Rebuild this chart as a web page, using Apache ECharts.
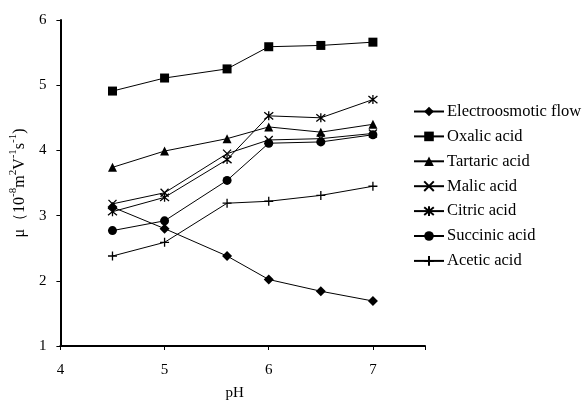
<!DOCTYPE html>
<html>
<head>
<meta charset="utf-8">
<script src="https://cdn.jsdelivr.net/npm/echarts@6/dist/echarts.min.js"></script>
<style>html,body{margin:0;padding:0;background:#fff}#c{width:584px;height:408px}</style>
</head>
<body>
<div id="c"></div>
<script>
var pH = [4.5, 5, 5.6, 6, 6.5, 7];
var eof = [3.13, 2.80, 2.38, 2.02, 1.84, 1.69];
var oxalic = [4.91, 5.11, 5.25, 5.59, 5.61, 5.66];
var tartaric = [3.74, 3.99, 4.18, 4.36, 4.28, 4.40];
var malic = [3.18, 3.35, 3.95, 4.16, 4.18, 4.26];
var citric = [3.06, 3.28, 3.86, 4.53, 4.50, 4.78];
var succinic = [2.77, 2.92, 3.54, 4.11, 4.13, 4.24];
var acetic = [2.38, 2.59, 3.19, 3.22, 3.31, 3.45];
var names = ['Electroosmotic flow','Oxalic acid','Tartaric acid','Malic acid','Citric acid','Succinic acid','Acetic acid'];

function pts(v){ return pH.map(function(x,i){ return [x, v[i]]; }); }
var FONT = 'Liberation Serif';
var X_PATH = 'path://M0,0L10,10M10,0L0,10';
var AST_PATH = 'path://M5,0L5,10M1,1L9,9M9,1L1,9';
var PLUS_PATH = 'path://M5,0L5,10M0,5L10,5';

function mk(name, data, symbol, size, stroke){
  return {
    name: name, type: 'line', data: pts(data),
    symbol: symbol, symbolSize: size,
    lineStyle: {color: '#000', width: 1},
    itemStyle: stroke ? {color: 'rgba(0,0,0,0)', borderColor: '#000', borderWidth: 1.3}
                      : {color: '#000', borderColor: '#000', borderWidth: 0},
    emphasis: {disabled: true},
    animation: false
  };
}

var chart = echarts.init(document.getElementById('c'));
chart.setOption({
  backgroundColor: '#fff',
  animation: false,
  grid: {left: 57, right: 159, top: 20, bottom: 62},
  legend: {
    orient: 'vertical', left: 408, top: 98,
    itemWidth: 30, itemHeight: 12, itemGap: 7.9,
    data: names,
    textStyle: {fontFamily: FONT, fontSize: 16.5, color: '#000', padding: [0,0,0,-2]}
  },
  xAxis: {
    type: 'value', min: 4, max: 7.5, interval: 1,
    name: 'pH', nameLocation: 'middle', nameGap: 40,
    nameTextStyle: {fontFamily: FONT, fontSize: 15, color: '#000', padding: [0, 16, 0, 0]},
    axisLine: {lineStyle: {color: '#000', width: 2}},
    axisTick: {show: true, length: 4, lineStyle: {color: '#000'}},
    axisLabel: {fontFamily: FONT, fontSize: 15, color: '#000', margin: 17,
      formatter: function(v){ return v > 7 ? '' : v; }},
    splitLine: {show: false}
  },
  yAxis: {
    type: 'value', min: 1, max: 6, interval: 1,
    name: '{t|μ（10}{s|-8}{t|m}{s|2}{t|V}{s|-1}{t|s}{s|-1}{t|)}',
    nameLocation: 'middle', nameGap: 27, nameRotate: 90,
    nameTextStyle: {
      fontFamily: FONT, fontSize: 16, color: '#000',
      rich: {
        t: {fontFamily: FONT, fontSize: 16, color: '#000', lineHeight: 20, verticalAlign: 'bottom'},
        s: {fontFamily: FONT, fontSize: 11, color: '#000', lineHeight: 20, verticalAlign: 'top'}
      }
    },
    axisLine: {show: true, lineStyle: {color: '#000', width: 2}},
    axisTick: {show: true, length: 4, lineStyle: {color: '#000'}},
    axisLabel: {fontFamily: FONT, fontSize: 15, color: '#000', margin: 14},
    splitLine: {show: false}
  },
  series: [
    mk(names[0], eof, 'diamond', 10, false),
    mk(names[1], oxalic, 'rect', 9, false),
    mk(names[2], tartaric, 'triangle', 9, false),
    mk(names[3], malic, X_PATH, 8, true),
    mk(names[4], citric, AST_PATH, 9, true),
    mk(names[5], succinic, 'circle', 9, false),
    mk(names[6], acetic, PLUS_PATH, 9, true)
  ]
});
</script>
</body>
</html>
